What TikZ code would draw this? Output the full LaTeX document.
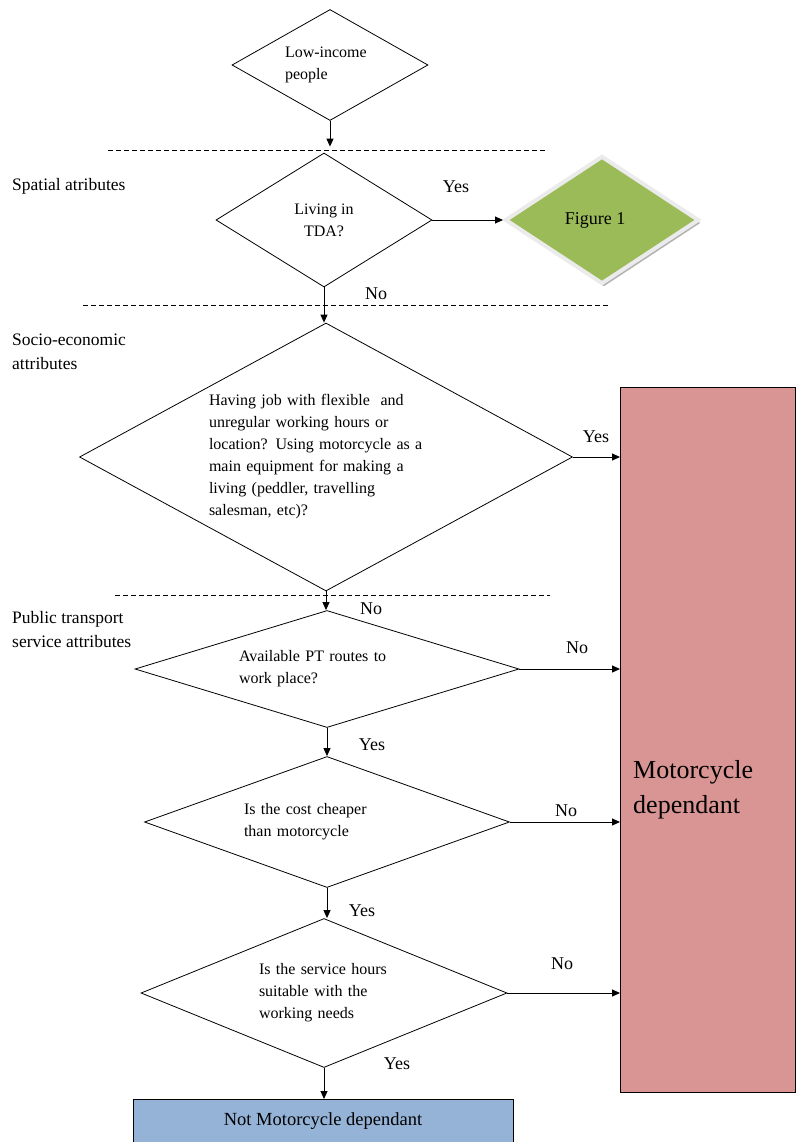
\documentclass[tikz,border=0pt]{standalone}
\usepackage{fontspec}
\setmainfont{Liberation Serif}
\usepackage{xcolor}
\usetikzlibrary{shapes, shadows, positioning, arrows.meta}
\definecolor{figgreen}{HTML}{9BBB59}
\definecolor{deppink}{HTML}{D99594}
\definecolor{notblue}{HTML}{95B3D7}

\begin{document}
\begin{tikzpicture}[x=1pt, y=-1pt, >={Triangle[length=8pt, width=7pt]},
    dec/.style = {draw, diamond, line width=0.8pt, inner sep=0pt, align=left, font=\fontsize{16}{22}\selectfont},
    txt/.style = {inner sep=0pt, align=left, font=\fontsize{17.5}{24}\selectfont},
    ans/.style = {inner sep=0pt, font=\fontsize{18}{20}\selectfont},
    sep/.style = {line width=0.6pt, dash pattern=on 5pt off 3pt},
    arr/.style = {->, line width=1pt}]

    \useasboundingbox (0,0) rectangle (795,1142);

    % decisions
    \node[dec, aspect=1.766, minimum width=196pt, minimum height=111pt, text width=90pt] (low) at (330,65) {Low-income\\people};
    \node[dec, aspect=1.61, minimum width=216pt, minimum height=134pt, align=center] (tda) at (324,220) {Living in\\TDA?};
    \node[diamond, aspect=1.52, fill=figgreen, draw=black!8, line width=4pt, minimum width=194pt, minimum height=128pt,
          font=\fontsize{18}{20}\selectfont,
          drop shadow={shadow xshift=2pt, shadow yshift=-3pt, fill=black!30, opacity=1}] (fig) at (602,220) {Figure 1\hspace*{14pt}};
    \node[dec, aspect=1.84, minimum width=493pt, minimum height=268pt, text width=234pt] (job) at (326,457)
        {Having job with flexible\ \ and\\unregular\ working hours or\\location? Using motorcycle as a\\main equipment for making a\\living (peddler, travelling\\salesman, etc)?};
    \node[dec, aspect=3.28, minimum width=384pt, minimum height=117pt, text width=176pt] (pt) at (327,669) {Available PT routes to\\work place?};
    \node[dec, aspect=2.79, minimum width=365pt, minimum height=131pt, text width=166pt] (cost) at (327,822) {Is the cost cheaper\\than motorcycle};
    \node[dec, aspect=2.46, minimum width=366pt, minimum height=149pt, text width=130pt] (serv) at (324,993) {Is the service hours\\suitable with the\\working needs};

    % outcomes
    \node[draw, fill=deppink, line width=0.8pt, minimum width=175pt, minimum height=705pt, anchor=north west] (mdep) at (620,387) {};
    \node[inner sep=0pt, align=left, anchor=west, font=\fontsize{26}{35}\selectfont] (mtext) at (633,790) {Motorcycle\\dependant};
    \node[draw, fill=notblue, line width=1pt, minimum width=380pt, minimum height=43pt, font=\fontsize{18.5}{20}\selectfont] (notm) at (323,1121) {Not Motorcycle dependant};

    % attribute groups
    \draw[sep] (108,150) -- (545,150);
    \draw[sep] (83,305) -- (608,305);
    \draw[sep] (115,595) -- (550,595);
    \node[txt, anchor=west] (spat) at (12,186) {Spatial atributes};
    \node[txt, anchor=west] (socio) at (12,352) {Socio-economic\\attributes};
    \node[txt, anchor=west] (pubt) at (12,630) {Public transport\\service attributes};

    % flow
    \draw[arr, shorten >=6pt] (low.south) -- (low.south |- tda.north);
    \draw[arr] (tda.east) -- (fig.west);
    \draw[arr] (tda.south) -- (tda.south |- job.north);
    \draw[arr] (job.east) -- (job.east -| mdep.west);
    \draw[arr] (job.south) -- (job.south |- pt.north);
    \draw[arr] (pt.east) -- (pt.east -| mdep.west);
    \draw[arr] (pt.south) -- (pt.south |- cost.north);
    \draw[arr] (cost.east) -- (cost.east -| mdep.west);
    \draw[arr] (cost.south) -- (cost.south |- serv.north);
    \draw[arr] (serv.east) -- (serv.east -| mdep.west);
    \draw[arr] (serv.south) -- (serv.south |- notm.north);

    % answers
    \node[ans] (yes1) at (456,187) {Yes};
    \node[ans] (no1) at (376,294) {No};
    \node[ans] (yes2) at (596,437) {Yes};
    \node[ans] (no2) at (371,609) {No};
    \node[ans] (no3) at (577,648) {No};
    \node[ans] (yes3) at (372,745) {Yes};
    \node[ans] (no4) at (566,811) {No};
    \node[ans] (yes4) at (362,911) {Yes};
    \node[ans] (no5) at (562,964) {No};
    \node[ans] (yes5) at (397,1064) {Yes};
\end{tikzpicture}
\end{document}
